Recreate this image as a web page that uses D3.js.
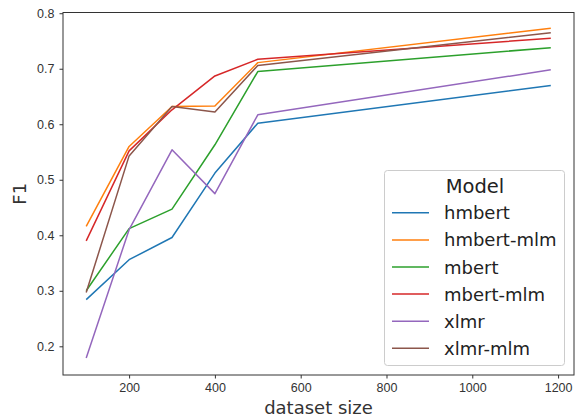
<!DOCTYPE html>
<meta charset="utf-8">
<style>
body { margin: 0; background: #fff; }
svg { display: block; font-family: "DejaVu Sans", sans-serif; }
.tick text { fill: #333; font-size: 12.5px; }
.tick line, .domain { stroke: #333; }
</style>
<svg width="576" height="419"></svg>
<script src="https://d3js.org/d3.v7.min.js"></script>
<script>

var sizes = [100, 200, 300, 400, 500, 1183];
var models = ["hmbert", "hmbert-mlm", "mbert", "mbert-mlm", "xlmr", "xlmr-mlm"];
var hmbert    = [0.284, 0.356, 0.396, 0.512, 0.602, 0.670];
var hmbertMlm = [0.416, 0.560, 0.632, 0.633, 0.711, 0.773];
var mbert     = [0.300, 0.412, 0.447, 0.563, 0.695, 0.738];
var mbertMlm  = [0.390, 0.552, 0.626, 0.687, 0.717, 0.755];
var xlmr      = [0.179, 0.410, 0.554, 0.475, 0.617, 0.698];
var xlmrMlm   = [0.297, 0.543, 0.632, 0.622, 0.706, 0.765];
var xTicks = [200, 400, 600, 800, 1000, 1200];
var yTicks = [0.2, 0.3, 0.4, 0.5, 0.6, 0.7, 0.8];

var series = [hmbert, hmbertMlm, mbert, mbertMlm, xlmr, xlmrMlm];
var colors = ["#1f77b4", "#ff7f0e", "#2ca02c", "#d62728", "#9467bd", "#8c564b"];

var svg = d3.select("svg"),
    mLeft = 63, mRight = 574, mTop = 12.5, mBottom = 375;

var x = d3.scaleLinear().domain([45.9, 1237.1]).range([mLeft, mRight]);
var y = d3.scaleLinear().domain([0.1483, 0.8013]).range([mBottom, mTop]);

svg.append("g")
    .attr("transform", "translate(0," + mBottom + ")")
    .call(d3.axisBottom(x).tickValues(xTicks).tickFormat(d3.format("d")).tickSize(3.5).tickPadding(5).tickSizeOuter(0))
    .call(function(g) { g.select(".domain").remove(); });

svg.append("g")
    .attr("transform", "translate(" + mLeft + ",0)")
    .call(d3.axisLeft(y).tickValues(yTicks).tickFormat(d3.format(".1f")).tickSize(3.5).tickPadding(5).tickSizeOuter(0))
    .call(function(g) { g.select(".domain").remove(); });

svg.append("rect")
    .attr("x", mLeft).attr("y", mTop)
    .attr("width", mRight - mLeft).attr("height", mBottom - mTop)
    .attr("fill", "none").attr("stroke", "#333").attr("stroke-width", 1);

var line = d3.line()
    .x(function(d, i) { return x(sizes[i]); })
    .y(function(d) { return y(d); });

series.forEach(function(s, i) {
  svg.append("path")
      .datum(s)
      .attr("d", line)
      .attr("fill", "none")
      .attr("stroke", colors[i])
      .attr("stroke-width", 1.5)
      .attr("stroke-linejoin", "round");
});

// axis titles
svg.append("text")
    .attr("x", 318.5).attr("y", 414)
    .attr("text-anchor", "middle")
    .attr("fill", "#333")
    .style("font-size", "18px")
    .text("dataset size");

svg.append("text")
    .attr("transform", "translate(26," + (mTop + mBottom) / 2 + ") rotate(-90)")
    .attr("text-anchor", "middle")
    .attr("fill", "#333")
    .style("font-size", "18px")
    .text("F1");

// legend
var lg = svg.append("g");
lg.append("rect")
    .attr("x", 384.5).attr("y", 170.5)
    .attr("width", 180).attr("height", 195)
    .attr("rx", 3)
    .attr("fill", "#fff").attr("fill-opacity", 0.8)
    .attr("stroke", "#ccc");

lg.append("text")
    .attr("x", 475).attr("y", 192.5)
    .attr("text-anchor", "middle")
    .attr("fill", "#222")
    .style("font-size", "19.5px")
    .text("Model");

models.forEach(function(m, i) {
  var yy = 212.8 + i * 27.1;
  lg.append("line")
      .attr("x1", 392).attr("x2", 429)
      .attr("y1", yy).attr("y2", yy)
      .attr("stroke", colors[i]).attr("stroke-width", 1.5);
  lg.append("text")
      .attr("x", 444).attr("y", yy + 6.5)
      .attr("fill", "#222")
      .style("font-size", "18px")
      .text(m);
});

</script>
